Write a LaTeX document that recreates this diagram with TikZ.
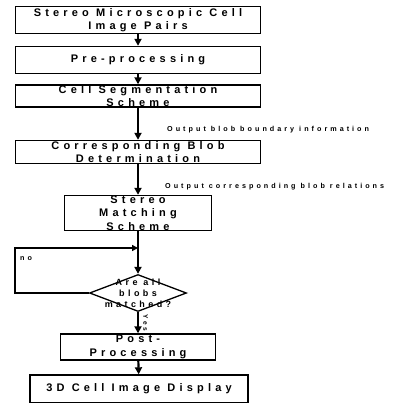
\documentclass[tikz,border=0pt]{standalone}
\usepackage{fontspec}
\newfontfamily\flowfont[LetterSpace=38]{Liberation Sans}
\newfontfamily\notefont[LetterSpace=42]{Liberation Sans}
\usetikzlibrary{shapes.geometric,arrows.meta}

\begin{document}
\begin{tikzpicture}[x=1pt,y=-1pt,
  box/.style={draw,line width=1.4pt,minimum height=#1,inner sep=0pt,align=center,
    font=\flowfont\bfseries\fontsize{11}{13.5}\selectfont},
  note/.style={anchor=west,inner sep=0pt,font=\notefont\bfseries\fontsize{7.2}{8}\selectfont},
  flow/.style={line width=2.2pt,-{Triangle[length=7pt,width=7pt]}}
]
\useasboundingbox (0,0) rectangle (401,403);

\node[box=27pt,minimum width=245pt] (pairs) at (138,20) {Stereo Microscopic Cell\\Image Pairs};
\node[box=27pt,minimum width=245pt] (pre) at (138,60) {Pre-processing};
\node[box=22pt,minimum width=245pt] (seg) at (138,96) {Cell Segmentation\\Scheme};
\node[box=23pt,minimum width=245pt] (blob) at (138,152) {Corresponding Blob\\Determination};
\node[box=35pt,minimum width=147pt] (match) at (138,213) {Stereo\\Matching\\Scheme};
\node[draw,line width=1.3pt,diamond,minimum width=97pt,minimum height=37pt,inner sep=0pt,
  label={[align=center,font=\flowfont\bfseries\fontsize{9}{11}\selectfont]center:Are all\\blobs\\matched?}] (dec) at (138,293) {};
\node[box=26pt,minimum width=155pt] (post) at (138,347) {Post-\\Processing};
\node[box=28pt,minimum width=218pt] (disp) at (139,389) {3D Cell Image Display};

\coordinate (join) at (138,248);

\draw[flow] (pairs) -- (pre);
\draw[flow] (pre) -- (seg);
\draw[flow] (seg) -- (blob);
\draw[flow] (blob) -- (match);
\draw[line width=2.2pt] (match) -- (join);
\draw[flow] (join) -- (dec);
\draw[line width=2.2pt,-{Triangle[length=6pt,width=6pt]}] (dec.west) -- (15,293) -- (15,248) -- (join);
\draw[flow] (dec) -- node[right=1pt,rotate=-90,anchor=south,font=\flowfont\bfseries\fontsize{6.5}{6.5}\selectfont]{Yes} (post);
\draw[flow] (post) -- (disp);

\node[note] (nolbl) at (20,259) {no};
\node[note] (bound) at (167,130) {Output blob boundary information};
\node[note] (rel) at (165,187) {Output corresponding blob relations};
\end{tikzpicture}
\end{document}
